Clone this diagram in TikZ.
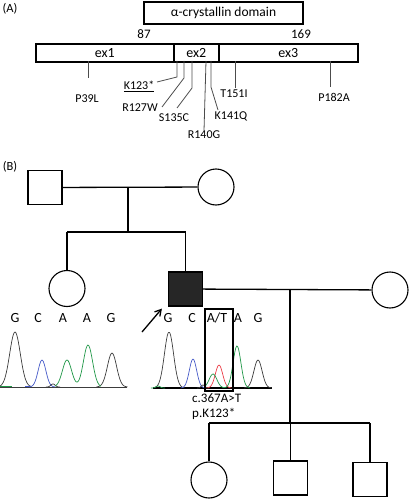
\documentclass[tikz,border=0pt]{standalone}
\usepackage{fontspec}
\setmainfont{Carlito}
\usepackage{tikz}
\usetikzlibrary{arrows.meta}
\usetikzlibrary{positioning}
\usetikzlibrary{calc}
\definecolor{chromK}{RGB}{60,60,60}
\definecolor{chromB}{RGB}{70,90,200}
\definecolor{chromG}{RGB}{30,150,70}
\definecolor{chromR}{RGB}{235,60,70}
\tikzset{
  male/.style={draw, line width=1.2pt, minimum size=34pt, inner sep=0pt},
  female/.style={draw, circle, line width=1.1pt, minimum size=36pt, inner sep=0pt},
  affected/.style={fill=black!85},
  pedline/.style={line width=1.3pt},
  exon/.style={draw, line width=1.6pt, minimum height=18pt, inner sep=0pt, anchor=north west, font=\fontsize{14}{16}\selectfont},
  mutline/.style={black!70, line width=0.8pt},
  mutlab/.style={font=\fontsize{12}{13}\selectfont, inner sep=0pt},
  base/.style={font=\fontsize{14}{16}\selectfont, inner sep=0pt},
  panel/.style={font=\fontsize{12.5}{14}\selectfont, inner sep=0pt},
}

\begin{document}
\begin{tikzpicture}[x=1pt, y=-1pt]
    \useasboundingbox (0,0) rectangle (409,500);
    % (A) gene
    \node[panel] (pA) at (10,9) {(A)};
    \node[draw, line width=1.6pt, minimum width=159pt, minimum height=22pt, inner sep=0pt, font=\fontsize{13.5}{15}\selectfont] (dom) at (223.5,13) {α-crystallin domain};
    \node[font=\fontsize{13}{15}\selectfont] (n87) at (144,34) {87};
    \node[font=\fontsize{13}{15}\selectfont] (n169) at (301,34) {169};
    \node[exon, minimum width=138pt] (ex1) at (35,43) {ex1};
    \node[exon, minimum width=45pt] (ex2) at (173,43) {ex2};
    \node[exon, minimum width=139pt] (ex3) at (218,43) {ex3};
    \node[mutlab] (l39) at (87,99) {P39L};
    \node[mutlab] (l123) at (139,86) {\underline{K123*}};
    \node[mutlab] (l127) at (140,108) {R127W};
    \node[mutlab] (l135) at (174,118) {S135C};
    \node[mutlab] (l140) at (204,135) {R140G};
    \node[mutlab] (l141) at (231,116) {K141Q};
    \node[mutlab] (l151) at (234,94) {T151I};
    \node[mutlab] (l182) at (334,97) {P182A};
    \draw[mutline] (88,61) -- (88,78);
    \draw[mutline] (177,61) -- (177,77) -- (157,82);
    \draw[mutline] (184,61) -- (184,78) -- (162,107);
    \draw[mutline] (192,61) -- (192,88) -- (177,108);
    \draw[mutline] (206,61) -- (l140.north);
    \draw[mutline] (211,61) -- (211,87) -- (218,110);
    \draw[mutline] (235,61) -- (235,88);
    \draw[mutline] (330,61) -- (330,87);
    % (B) pedigree
    \node[panel] (pB) at (10,167) {(B)};
    \node[male] (gf) at (45,187.5) {};
    \node[female] (gm) at (216,187) {};
    \node[female] (sis) at (67,288.5) {};
    \node[male, affected] (pro) at (185.5,289) {};
    \node[female] (wife) at (390,290) {};
    \node[female] (dau) at (209,480) {};
    \node[male] (son1) at (290.5,478) {};
    \node[male] (son2) at (370,479.5) {};
    \coordinate (m1) at (128,187);
    \coordinate (s1) at (128,232);
    \coordinate (m2) at (290,290);
    \coordinate (s2) at (290,423);
    \draw[pedline] (gf) -- (gm);
    \draw[pedline] (m1) -- (s1);
    \draw[pedline] (sis |- s1) -- (pro |- s1);
    \draw[pedline] (sis |- s1) -- (sis.north);
    \draw[pedline] (pro |- s1) -- (pro.north);
    \draw[pedline] (pro) -- (wife);
    \draw[pedline] (m2) -- (s2);
    \draw[pedline] (dau |- s2) -- (son2 |- s2);
    \draw[pedline] (dau |- s2) -- (dau.north);
    \draw[pedline] (son1 |- s2) -- (son1.north);
    \draw[pedline] (son2 |- s2) -- (son2.north);
    % proband arrow
    \coordinate (arr) at (142,332);
    \draw[-{Straight Barb[length=6pt, width=7pt]}, line width=1.3pt] (arr) -- ($(pro.south west)+(-6,2)$);
    % sequence letters
    \foreach \x/\b in {15/G, 38/C, 63/A, 87/A, 111/G, 168/G, 192/C, 217/{A/T}, 238/A, 258/G}
        \node[base] at (\x,318) {\b};
    % chromatogram, sister
    \draw[chromK, line width=0.6pt] (0,387) -- (127,387);
    \draw[chromG, line width=0.6pt] (0,386.5) -- (12,386.5);
    \draw[chromB, line width=0.6pt] (25,386.5) -- (30,386.5);
    \draw[chromK, line width=0.7pt] plot[domain=0:31, samples=40, smooth] (\x, {387-55*exp(-((\x-15)/7.5)^2)});
    \foreach \c/\h/\s/\col in {42/27/5.5/chromB, 53/3/3/chromK, 112/34/6.5/chromK}
        \draw[\col, line width=0.7pt] plot[domain=\c-2.4*\s:\c+2.4*\s, samples=30, smooth] (\x, {387-\h*exp(-((\x-\c)/\s)^2)});
    \draw[chromG, line width=0.7pt] plot[domain=55:101, samples=50, smooth] (\x, {387-27*exp(-((\x-67)/6.5)^2)-42*exp(-((\x-88)/6.5)^2)});
    % chromatogram, proband
    \draw[black, line width=1.6pt] (153,388) -- (272,388);
    \foreach \c/\h/\s/\col in {169/56/6.5/chromK, 193/29/5.2/chromB, 203/3/2.5/chromK, 219/23/5.2/chromR, 258/28/5.8/chromK, 158/2/3/chromG}
        \draw[\col, line width=0.7pt] plot[domain=\c-2.4*\s:\c+2.4*\s, samples=30, smooth] (\x, {388-\h*exp(-((\x-\c)/\s)^2)});
    \draw[chromG, line width=0.7pt] plot[domain=204:250, samples=50, smooth] (\x, {388-14*exp(-((\x-213)/5.5)^2)-42*exp(-((\x-237)/5.5)^2)});
    \node[draw, line width=1.6pt, minimum width=28pt, minimum height=82pt, inner sep=0pt, anchor=north west] (mutbox) at (204,308) {};
    % mutation text
    \node[font=\fontsize{13}{15}\selectfont, inner sep=0pt, anchor=west] (cdna) at (192,398) {c.367A>T};
    \node[font=\fontsize{13}{15}\selectfont, inner sep=0pt, anchor=west] (prot) at (192,414) {p.K123*};
\end{tikzpicture}
\end{document}
